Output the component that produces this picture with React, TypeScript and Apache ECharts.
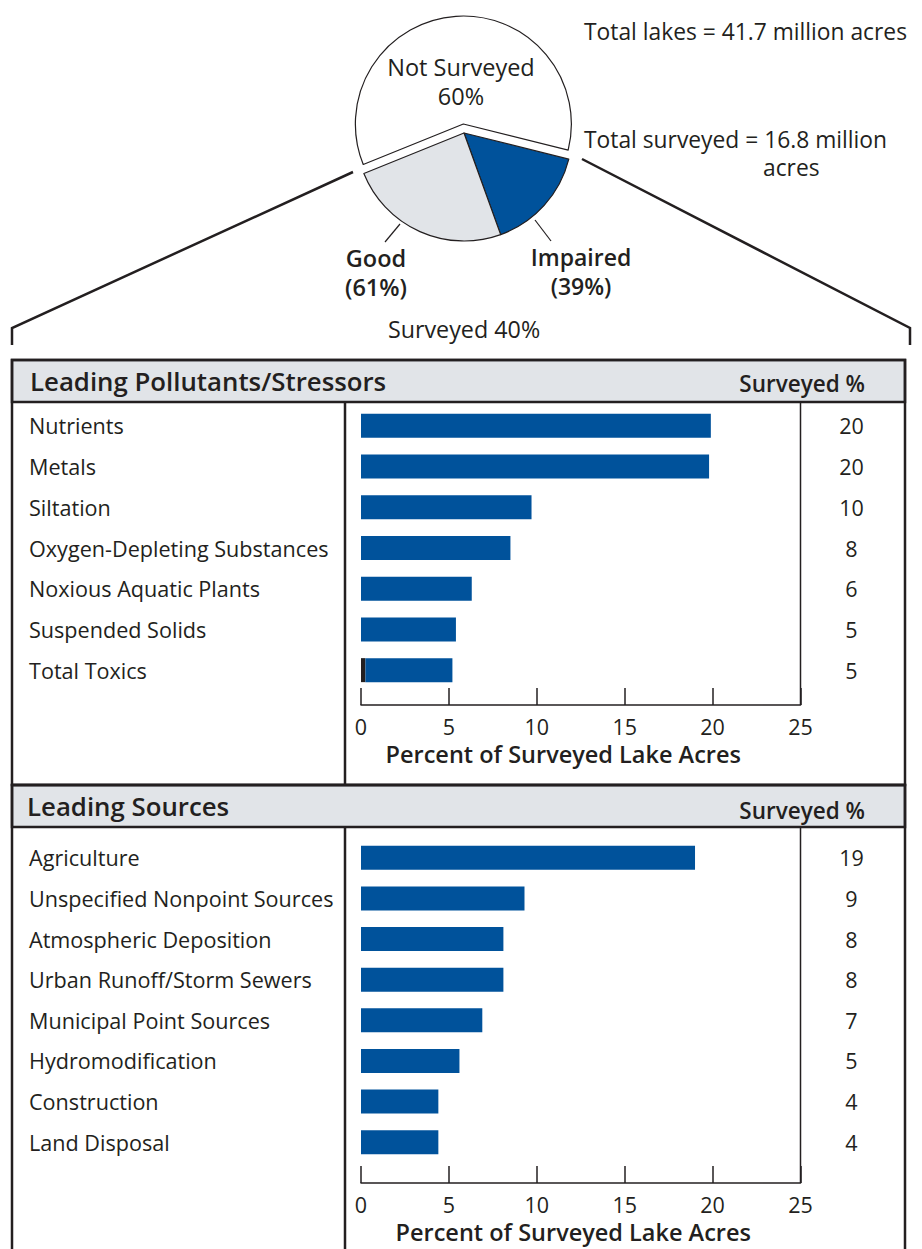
import React, { useEffect, useRef } from "react";
import * as echarts from "echarts";

const pieNames = ["Impaired", "Good", "Not Surveyed"];
const pieValues = [15.6, 24.4, 60];
const pieColors = ["#00529b", "#e1e4e8", "#ffffff"];

const pollutantCats = [
  "Nutrients",
  "Metals",
  "Siltation",
  "Oxygen-Depleting Substances",
  "Noxious Aquatic Plants",
  "Suspended Solids",
  "Total Toxics",
];
const pollutantDark = [0, 0, 0, 0, 0, 0, 0.25];
const pollutantVals = [19.9, 19.8, 9.7, 8.5, 6.3, 5.4, 4.95];
const pollutantPct = ["20", "20", "10", "8", "6", "5", "5"];

const sourceCats = [
  "Agriculture",
  "Unspecified Nonpoint Sources",
  "Atmospheric Deposition",
  "Urban Runoff/Storm Sewers",
  "Municipal Point Sources",
  "Hydromodification",
  "Construction",
  "Land Disposal",
];
const sourceVals = [19.0, 9.3, 8.1, 8.1, 6.9, 5.6, 4.4, 4.4];
const sourcePct = ["19", "9", "8", "8", "7", "5", "4", "4"];

const axisMin = 0;
const axisMax = 25;
const axisStep = 5;

const INK = "#231f20";
const BLUE = "#00529b";
const GRAY = "#e1e4e8";
const FONT = "Open Sans";

export default function App() {
  const ref = useRef<HTMLDivElement>(null);

  useEffect(() => {
    if (!ref.current) return;
    const chart = echarts.init(ref.current, null, { renderer: "svg" });

    const xAxisCommon = (gridIndex: number, offset: number, nameGap: number, pad: number[]) => ({
      type: "value",
      gridIndex,
      min: axisMin,
      max: axisMax,
      interval: axisStep,
      position: "bottom",
      offset,
      axisLine: { show: true, lineStyle: { color: INK, width: 1.5 } },
      axisTick: { show: true, inside: true, length: 17, lineStyle: { color: INK, width: 1.5 } },
      splitLine: { show: false },
      axisLabel: { margin: 10, fontSize: 21.5, color: INK, fontFamily: FONT },
      name: "Percent of Surveyed Lake Acres",
      nameLocation: "middle",
      nameGap,
      nameTextStyle: { fontSize: 23.5, fontWeight: 600, color: INK, fontFamily: FONT, padding: pad },
    });

    const catAxis = (gridIndex: number, data: string[]) => ({
      type: "category",
      gridIndex,
      inverse: true,
      data,
      axisLine: { show: false },
      axisTick: { show: false },
      axisLabel: { align: "left", margin: 332, fontSize: 21.6, color: INK, fontFamily: FONT },
    });

    const pctAxis = (gridIndex: number, data: string[]) => ({
      type: "category",
      gridIndex,
      position: "right",
      inverse: true,
      data,
      axisLine: { show: false },
      axisTick: { show: false },
      axisLabel: { align: "center", margin: 51, fontSize: 21.5, color: INK, fontFamily: FONT },
    });

    const line = (x1: number, y1: number, x2: number, y2: number, w = 2.5) => ({
      type: "line",
      shape: { x1, y1, x2, y2 },
      style: { stroke: INK, lineWidth: w },
      silent: true,
      z: 50,
    });

    const txt = (text: string, x: number, y: number, size: number, bold: boolean, align = "left") => ({
      type: "text",
      x,
      y,
      z: 100,
      style: {
        text,
        fontSize: size,
        fontWeight: bold ? 600 : "normal",
        fontFamily: FONT,
        fill: INK,
        align,
        verticalAlign: "middle",
        lineHeight: 29,
      },
      silent: true,
    });

    chart.setOption({
      animation: false,
      textStyle: { fontFamily: FONT },
      grid: [
        { left: 361, top: 405.5, width: 439.5, height: 285 },
        { left: 361, top: 837.5, width: 439.5, height: 325 },
      ],
      xAxis: [xAxisCommon(0, 14.5, 37, [0, 35, 0, 0]), xAxisCommon(1, 20.5, 37, [0, 15, 0, 0])],
      yAxis: [
        catAxis(0, pollutantCats),
        pctAxis(0, pollutantPct),
        catAxis(1, sourceCats),
        pctAxis(1, sourcePct),
      ],
      series: [
        {
          type: "bar",
          name: "Pollutants (dark)",
          xAxisIndex: 0,
          yAxisIndex: 0,
          stack: "p",
          data: pollutantDark,
          barWidth: 24,
          itemStyle: { color: INK },
          silent: true,
        },
        {
          type: "bar",
          name: "Pollutants",
          xAxisIndex: 0,
          yAxisIndex: 0,
          stack: "p",
          data: pollutantVals,
          barWidth: 24,
          itemStyle: { color: BLUE },
          silent: true,
        },
        {
          type: "bar",
          name: "Sources",
          xAxisIndex: 1,
          yAxisIndex: 2,
          data: sourceVals,
          barWidth: 24,
          itemStyle: { color: BLUE },
          silent: true,
        },
        {
          type: "pie",
          center: [464, 133],
          radius: 108,
          startAngle: 346,
          clockwise: true,
          selectedMode: "single",
          selectedOffset: 9,
          label: { show: false },
          labelLine: { show: false },
          emphasis: { disabled: true },
          silent: true,
          z: 1,
          itemStyle: { borderColor: INK, borderWidth: 1.2 },
          data: pieNames.map((n, i) => ({
            name: n,
            value: pieValues[i],
            selected: n === "Not Surveyed",
            itemStyle: { color: pieColors[i] },
          })),
        },
      ],
      graphic: [
        // header bands
        { type: "rect", shape: { x: 12, y: 360, width: 893, height: 42 }, style: { fill: GRAY, stroke: INK, lineWidth: 2.5 }, silent: true },
        { type: "rect", shape: { x: 12, y: 785, width: 893, height: 42 }, style: { fill: GRAY, stroke: INK, lineWidth: 2.5 }, silent: true },
        // panel outlines
        { type: "rect", shape: { x: 12, y: 360, width: 893, height: 425 }, style: { fill: "none", stroke: INK, lineWidth: 2.5 }, silent: true },
        { type: "rect", shape: { x: 12, y: 785, width: 893, height: 500 }, style: { fill: "none", stroke: INK, lineWidth: 2.5 }, silent: true },
        line(345, 402, 345, 785),
        line(345, 827, 345, 1260),
        line(800.5, 402, 800.5, 705, 1.5),
        line(800.5, 827, 800.5, 1183, 1.5),
        // connectors
        { type: "polyline", z: 50, shape: { points: [[353, 172], [12, 328], [12, 345]] }, style: { stroke: INK, lineWidth: 2.5, fill: "none" }, silent: true },
        { type: "polyline", z: 50, shape: { points: [[582, 159], [910, 328], [910, 345]] }, style: { stroke: INK, lineWidth: 2.5, fill: "none" }, silent: true },
        // leader lines
        line(400, 224, 385, 242, 1.2),
        line(535, 220, 551, 241, 1.2),
        // texts
        txt("Not Surveyed\n60%", 461, 81, 23.5, false, "center"),
        txt("Good\n(61%)", 376, 272, 23.5, true, "center"),
        txt("Impaired\n(39%)", 581, 271, 23, true, "center"),
        txt("Surveyed 40%", 464, 329, 23.3, false, "center"),
        txt("Total lakes = 41.7 million acres", 584, 31, 22.8, false),
        txt("Total surveyed = 16.8 million", 584, 139, 22.8, false),
        txt("acres", 763, 167, 22.8, false),
        txt("Leading Pollutants/Stressors", 30, 381, 25.8, true),
        txt("Surveyed %", 865, 383, 22.5, true, "right"),
        txt("Leading Sources", 27, 806, 25.8, true),
        txt("Surveyed %", 865, 810, 22.5, true, "right"),
      ],
    });

    return () => chart.dispose();
  }, []);

  return (
    <div
      ref={ref}
      style={{ position: "absolute", left: 0, top: 0, width: 922, height: 1249, background: "#fff" }}
    />
  );
}
